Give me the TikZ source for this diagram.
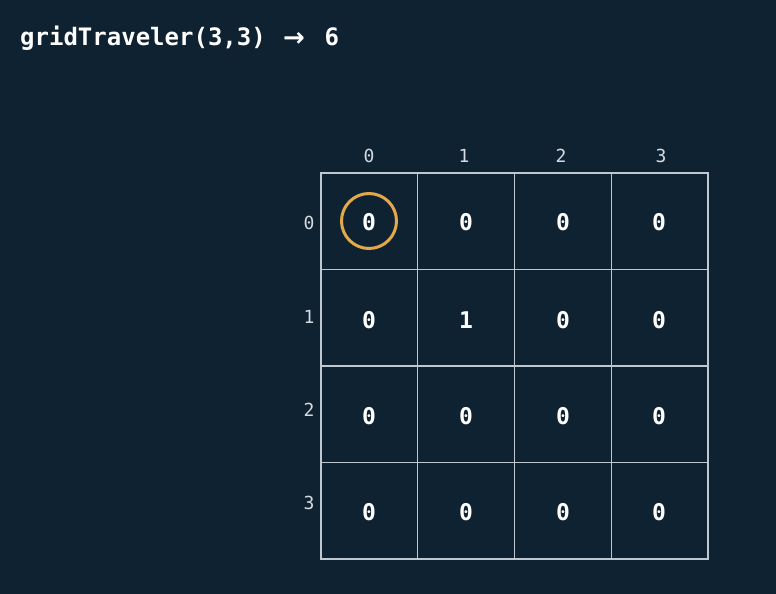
\documentclass[tikz,border=0pt]{standalone}
\usepackage{fontspec}
\setmonofont{DejaVu Sans Mono}
\newfontfamily\arrowfont{DejaVu Sans}
\definecolor{bg}{HTML}{0F2231}
\definecolor{gridc}{HTML}{BFC8D0}
\definecolor{ring}{HTML}{E2A84A}
\definecolor{lbl}{HTML}{D5DBE0}
\tikzset{
  cellval/.style={text=white,font=\ttfamily\bfseries\fontsize{23}{23}\selectfont,inner sep=0pt},
  axislbl/.style={text=lbl,font=\ttfamily\fontsize{18}{18}\selectfont,inner sep=0pt},
  titletext/.style={text=white,font=\ttfamily\bfseries\fontsize{24}{24}\selectfont,inner sep=0pt,anchor=base west}
}
\begin{document}
\begin{tikzpicture}[x=1pt,y=-1pt]
\fill[bg] (0,0) rectangle (776,594);
\useasboundingbox (0,0) rectangle (776,594);
\node[titletext] (title) at (20,46) {gridTraveler(3,3)};
\node[titletext,font=\arrowfont\bfseries\fontsize{26}{26}\selectfont] (arrow) at (283,46.5) {→};
\node[titletext] (result) at (324.5,46) {6};
% grid
\draw[gridc,line width=1.6pt] (321,173) rectangle (708,559);
\foreach \i in {1,2,3} {
  \draw[gridc,line width=1.1pt] ({321+\i*96.75},173) -- ({321+\i*96.75},559);
  \draw[gridc,line width=1.1pt] (321,{173+\i*96.5}) -- (708,{173+\i*96.5});
}
% column labels
\node[axislbl] (c0) at (369,156) {0};
\node[axislbl] (c1) at (464,156) {1};
\node[axislbl] (c2) at (561,156) {2};
\node[axislbl] (c3) at (661,156) {3};
% row labels
\node[axislbl] (r0) at (309,223) {0};
\node[axislbl] (r1) at (309,317) {1};
\node[axislbl] (r2) at (309,410) {2};
\node[axislbl] (r3) at (309,503) {3};
% values
\foreach \r/\yy in {0/222,1/320,2/416,3/512} {
  \foreach \c/\xx in {0/369,1/466,2/563,3/659} {
    \ifnum\r=1 \ifnum\c=1
      \node[cellval] (v\r\c) at (\xx,\yy) {1};
    \else
      \node[cellval] (v\r\c) at (\xx,\yy) {0};
    \fi\else
      \node[cellval] (v\r\c) at (\xx,\yy) {0};
    \fi
  }
}
\draw[ring,line width=3pt] (369,221) circle (27.5);
\end{tikzpicture}
\end{document}
